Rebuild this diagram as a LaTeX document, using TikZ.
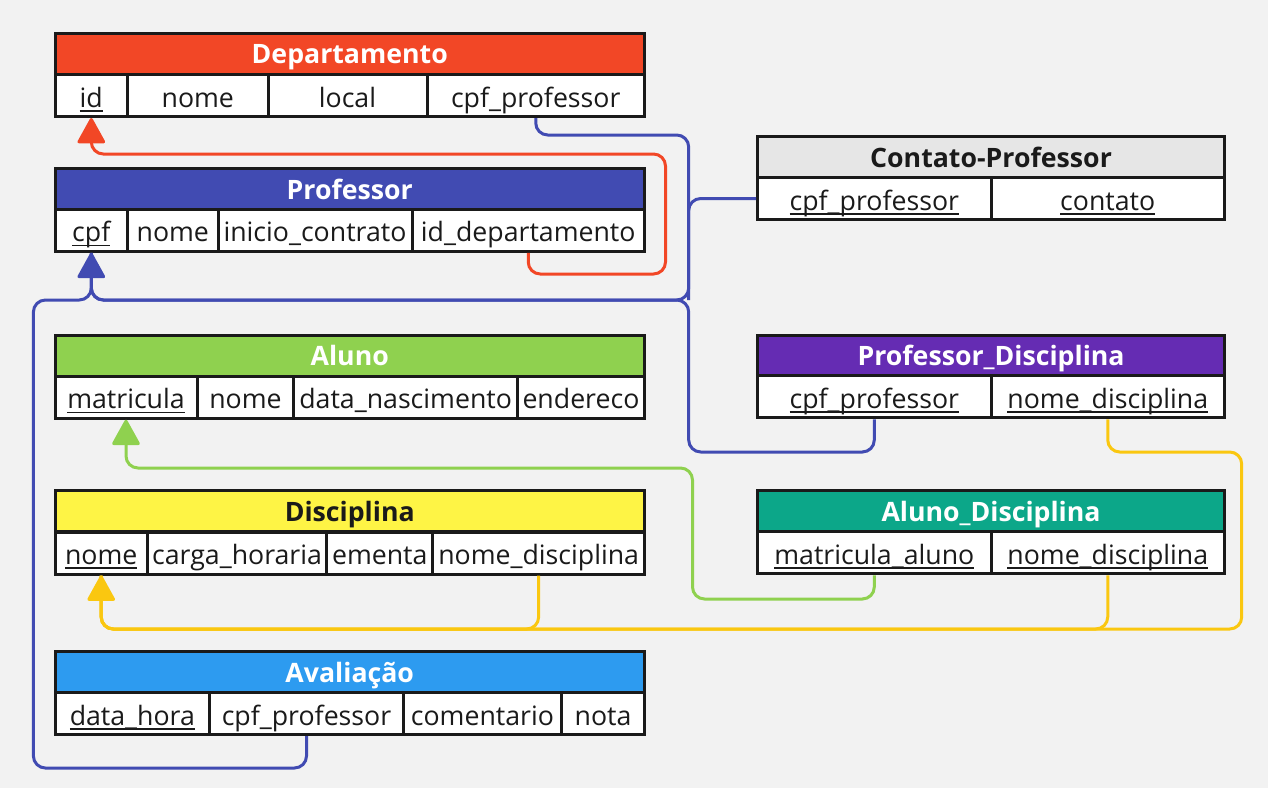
\documentclass[tikz,border=0pt]{standalone}
\usepackage{fontspec}
\setmainfont{Open Sans}
\usetikzlibrary{arrows.meta}
\definecolor{bgc}{HTML}{F2F2F2}
\definecolor{bd}{HTML}{1A1A1A}
\definecolor{cDep}{HTML}{F24726}
\definecolor{cProf}{HTML}{414BB2}
\definecolor{cAlu}{HTML}{8FD14F}
\definecolor{cDis}{HTML}{FEF445}
\definecolor{cAva}{HTML}{2D9BF0}
\definecolor{cCon}{HTML}{E6E6E6}
\definecolor{cPD}{HTML}{652CB3}
\definecolor{cAD}{HTML}{0CA789}
\definecolor{cYel}{HTML}{FAC710}
\newcommand\keyf[1]{\setbox0\hbox{#1}\rlap{\rule[-4.5pt]{\wd0}{1.6pt}}\box0}
\newcommand\mkcell[6][]{\node[fld,#1,minimum width={#4pt-#3pt}] (#2) at ({(#3+#4)/2},#5) {#6};}
\newcommand\mktitle[6]{\node[ttl,fill=#5,minimum width={#3pt-#2pt}] (#1) at ({(#2+#3)/2},#4) {#6};}
\tikzset{
  fld/.style={draw=bd, line width=3pt, fill=white, minimum height=42pt, inner sep=0pt,
    text height=27pt, text depth=4pt,
    font=\fontsize{26.7}{30}\selectfont, text=bd},
  ttl/.style={draw=bd, line width=3pt, minimum height=41pt, inner sep=0pt,
    text height=24pt, text depth=4pt,
    font=\fontsize{26.7}{30}\selectfont\bfseries, text=white},
  conn/.style={line width=3pt, rounded corners=12pt},
  arr/.style={-{Triangle[length=27pt,width=29pt,round]}},
}
\begin{document}
\begin{tikzpicture}[x=1pt,y=-1pt]
\fill[bgc] (0,0) rectangle (1268,788);
\useasboundingbox (0,0) rectangle (1268,788);

% coordinates of connector bends
\coordinate (bv) at (688.7,300);
\coordinate (btop) at (688.7,135);
\coordinate (bbot) at (688.7,452);
\coordinate (bleft) at (33.4,768);
\coordinate (rr) at (665.5,274);
\coordinate (rt) at (665.5,154);
\coordinate (gb) at (692.5,599);
\coordinate (gt) at (692.5,468);
\coordinate (yr) at (1241.7,452);
\coordinate (ybus) at (1241.7,629);

% ---------- Departamento ----------
\mktitle{dt}{55}{644.5}{53.5}{cDep}{Departamento}
\mkcell{d1}{55}{127.6}{95.5}{\keyf{id}}
\mkcell{d2}{127.6}{268}{95.5}{nome}
\mkcell{d3}{268}{427}{95.5}{local}
\mkcell{d4}{427}{644.5}{95.5}{cpf\_professor}

% ---------- Professor ----------
\mktitle{pt}{55}{644.5}{189}{cProf}{Professor}
\mkcell{p1}{55}{127.6}{230.3}{\keyf{cpf}}
\mkcell{p2}{127.6}{218}{230.3}{nome}
\mkcell{p3}{218}{412}{230.3}{inicio\_contrato}
\mkcell{p4}{412}{644.5}{230.3}{id\_departamento}

% ---------- Contato-Professor ----------
\mktitle{ct}{757.6}{1224.5}{157.2}{cCon}{\textcolor{bd}{Contato-Professor}}
\mkcell{c1}{757.6}{991}{198.5}{\keyf{cpf\_professor}}
\mkcell{c2}{991}{1224.5}{198.5}{\keyf{contato}}

% ---------- Aluno ----------
\mktitle{at}{55}{644.5}{355.5}{cAlu}{Aluno}
\mkcell{al1}{55}{197}{397.2}{\keyf{matricula}}
\mkcell{al2}{197}{293.9}{397.2}{nome}
\mkcell{al3}{293.9}{517.4}{397.2}{data\_nascimento}
\mkcell{al4}{517.4}{644.5}{397.2}{endereco}

% ---------- Professor_Disciplina ----------
\mktitle{pdt}{757.6}{1224.5}{355.5}{cPD}{Professor\_Disciplina}
\mkcell{pd1}{757.6}{991}{396.9}{\keyf{cpf\_professor}}
\mkcell{pd2}{991}{1224.5}{396.9}{\keyf{nome\_disciplina}}

% ---------- Disciplina ----------
\mktitle{dit}{55}{644.5}{511.3}{cDis}{\textcolor{bd}{Disciplina}}
\mkcell{di1}{55}{147.4}{553}{\keyf{nome}}
\mkcell{di2}{147.4}{326.7}{553}{carga\_horaria}
\mkcell{di3}{326.7}{432.8}{553}{ementa}
\mkcell{di4}{432.8}{644.5}{553}{nome\_disciplina}

% ---------- Aluno_Disciplina ----------
\mktitle{adt}{757.6}{1224.5}{511.2}{cAD}{Aluno\_Disciplina}
\mkcell{ad1}{757.6}{991}{552.9}{\keyf{matricula\_aluno}}
\mkcell{ad2}{991}{1224.5}{552.9}{\keyf{nome\_disciplina}}

% ---------- Avaliacao ----------
\mktitle{avt}{55}{644.5}{672}{cAva}{Avaliação}
\mkcell{av1}{55}{209.7}{713.7}{\keyf{data\_hora}}
\mkcell{av2}{209.7}{403.3}{713.7}{cpf\_professor}
\mkcell{av3}{403.3}{561.6}{713.7}{comentario}
\mkcell{av4}{561.6}{644.5}{713.7}{nota}

% ---------- connectors ----------
\draw[conn,cDep,arr] (p4.south) |- (rr) -- (rt) -| (d1.south);
\draw[conn,cProf,arr] (d4.south) |- (btop) -- (bv) -| (p1.south);
\draw[conn,cProf] (c1.west) -| (bv);
\draw[conn,cProf] (pd1.south) |- (bbot) |- (p1.south |- bv) -- (p1.south);
\draw[conn,cProf] (av2.south) |- (bleft) |- (p1.south |- bv) -- (p1.south);
\draw[conn,cAlu,arr] (ad1.south) |- (gb) -- (gt) -| (al1.south);
\draw[conn,cYel,arr] (pd2.south) |- (yr) -- (ybus) -| (di1.south);
\draw[conn,cYel] (ad2.south) |- (di1.south |- ybus) -- (di1.south);
\draw[conn,cYel] (di4.south) |- (di1.south |- ybus) -- (di1.south);
\end{tikzpicture}
\end{document}
